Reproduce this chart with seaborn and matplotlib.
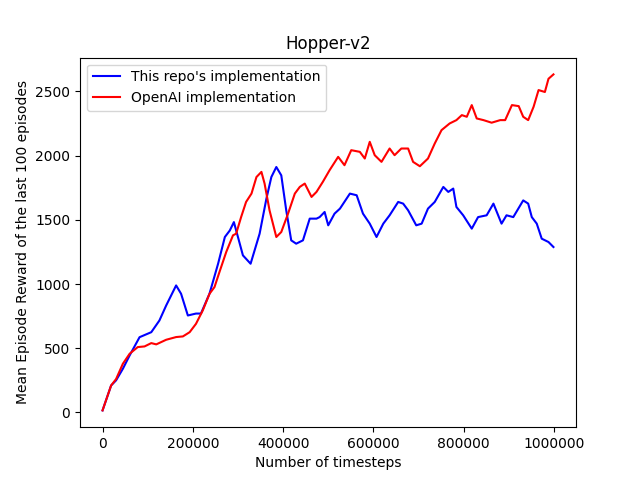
import matplotlib
matplotlib.use("Agg")
import matplotlib.pyplot as plt
import seaborn as sns
import pandas as pd

# values
repo_steps = [0, 19000, 30000, 45000, 60000, 82000, 108000, 126000, 141000, 163000,
              174000, 189000, 207000, 218000, 237000, 256000, 271000, 282000, 291000,
              300000, 311000, 328000, 348000, 363000, 374000, 385000, 396000, 407000,
              418000, 429000, 444000, 459000, 474000, 481000, 492000, 500000, 514000,
              526000, 548000, 563000, 577000, 592000, 607000, 622000, 636000, 655000,
              666000, 677000, 695000, 707000, 721000, 736000, 755000, 766000, 777000,
              784000, 799000, 818000, 832000, 851000, 866000, 884000, 895000, 910000,
              932000, 943000, 951000, 962000, 973000, 988000, 999000]
repo_reward = [16, 210, 250, 340, 444, 586, 625, 716, 833, 989,
               924, 755, 770, 770, 925, 1158, 1366, 1417, 1482,
               1366, 1223, 1158, 1392, 1664, 1833, 1911, 1846, 1573,
               1340, 1314, 1340, 1509, 1509, 1521, 1561, 1457, 1548,
               1587, 1704, 1691, 1548, 1470, 1366, 1470, 1535, 1639,
               1626, 1574, 1457, 1470, 1587, 1639, 1756, 1717, 1743,
               1600, 1535, 1431, 1521, 1535, 1626, 1470, 1535, 1521,
               1651, 1626, 1521, 1470, 1353, 1327, 1288]

openai_steps = [0, 19000, 30000, 45000, 60000, 78000, 93000, 108000, 119000, 141000,
                163000, 178000, 193000, 207000, 222000, 237000, 248000, 259000, 274000,
                289000, 296000, 307000, 318000, 330000, 341000, 352000, 359000, 370000,
                385000, 396000, 411000, 426000, 437000, 448000, 463000, 474000, 488000,
                503000, 522000, 536000, 551000, 570000, 581000, 592000, 603000, 618000,
                636000, 647000, 662000, 677000, 688000, 703000, 721000, 736000, 751000,
                769000, 784000, 796000, 807000, 818000, 829000, 844000, 862000, 881000,
                892000, 907000, 922000, 932000, 943000, 955000, 966000, 980000, 988000,
                999000]
openai_reward = [16, 210, 260, 379, 457, 509, 514, 540, 530, 566,
                 587, 592, 625, 690, 794, 924, 976, 1093, 1249,
                 1379, 1392, 1521, 1639, 1704, 1833, 1873, 1782, 1573,
                 1366, 1405, 1548, 1704, 1756, 1782, 1678, 1717, 1795,
                 1886, 1990, 1925, 2042, 2029, 1977, 2107, 2003, 1951,
                 2055, 2003, 2055, 2055, 1951, 1917, 1977, 2094, 2198,
                 2250, 2276, 2315, 2302, 2393, 2289, 2276, 2256, 2276,
                 2276, 2393, 2385, 2302, 2276, 2380, 2510, 2495, 2598,
                 2632]

repo = pd.DataFrame({"steps": repo_steps, "reward": repo_reward})
openai = pd.DataFrame({"steps": openai_steps, "reward": openai_reward})

fig, ax = plt.subplots(figsize=(6.4, 4.8), dpi=100)

sns.lineplot(data=repo, x="steps", y="reward", color="blue",
             label="This repo's implementation", ax=ax)
sns.lineplot(data=openai, x="steps", y="reward", color="red",
             label="OpenAI implementation", ax=ax)

ax.ticklabel_format(axis="x", style="plain")
ax.set_title("Hopper-v2")
ax.set_xlabel("Number of timesteps")
ax.set_ylabel("Mean Episode Reward of the last 100 episodes")
ax.legend(loc="upper left")

fig.savefig("out.png", dpi=100)
